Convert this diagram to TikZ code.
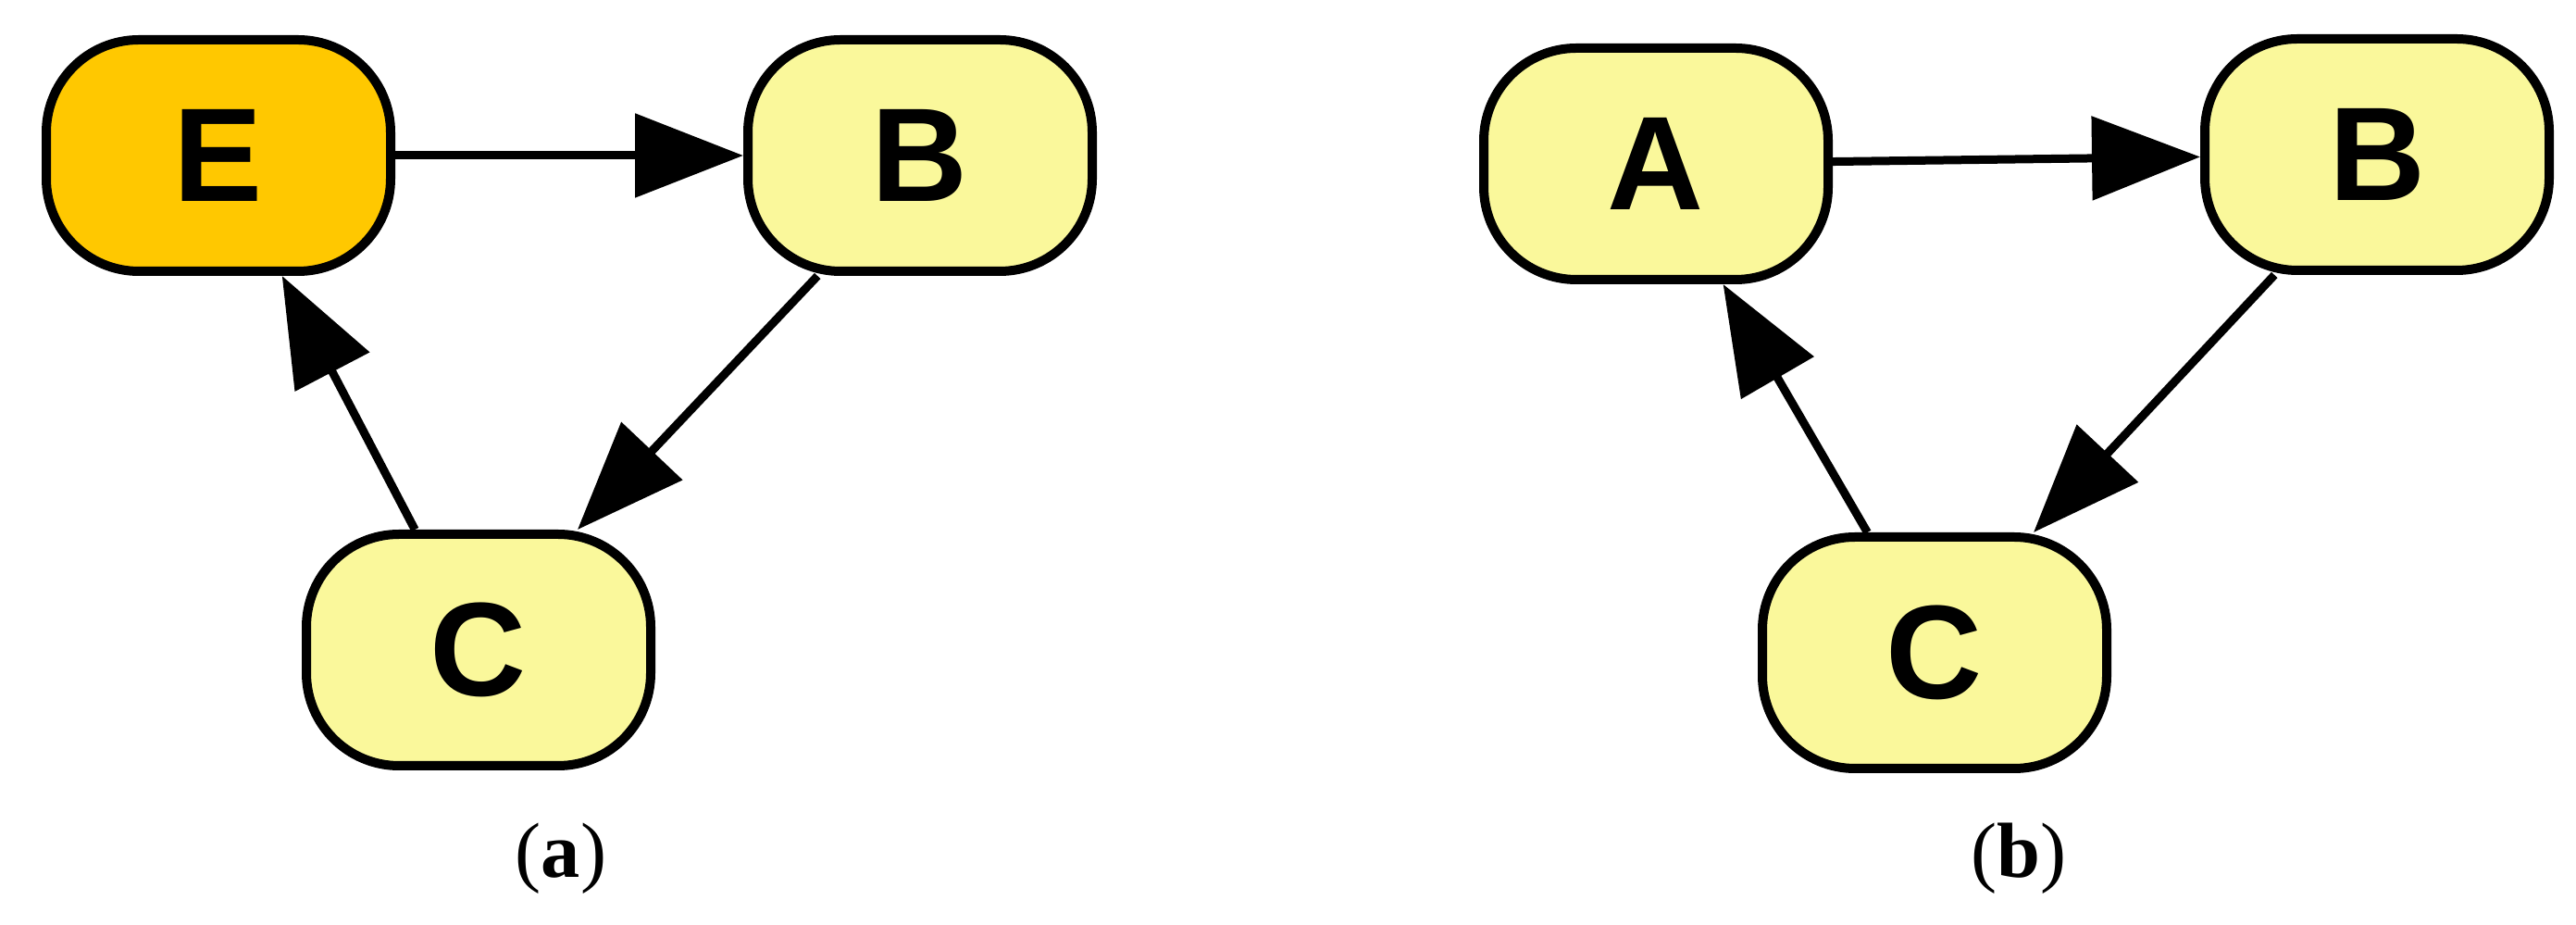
\documentclass[tikz,border=0pt]{standalone}
\usepackage{fontspec}
\setmainfont{Liberation Serif}
\newfontfamily\boxfont{Liberation Sans}
\usepackage{tikz}
\usetikzlibrary{calc,arrows.meta}

\definecolor{paleyellow}{RGB}{250,248,155}
\definecolor{amber}{RGB}{255,200,0}

\begin{document}
\begin{tikzpicture}[
	state/.style={draw,line width=0.1cm,rectangle,rounded corners=1.0cm,fill=paleyellow,minimum width=3.72cm,minimum height=2.50cm,font=\boxfont\bfseries\fontsize{41}{48}\selectfont},
	link/.style={line width=0.09cm,-{Triangle[length=1.17cm,width=0.89cm]}},
	caption/.style={anchor=base,font=\fontsize{24}{28}\selectfont}
	]
\useasboundingbox (0,0) rectangle (27.83,9.99);

\node[state,fill=amber] (E) at (2.36,8.31) {E};
\node[state] (Ba) at (9.94,8.31) {B};
\node[state] (Ca) at (5.17,2.97) {C};

\draw[link] (E) -- (Ba);
\draw[link] ($(Ba.south west)!0.21!(Ba.south east)$)
	-- ($(Ca.north west)!0.78!(Ca.north east)$);
\draw[link] ($(Ca.north west)!0.32!(Ca.north east)$)
	-- ($(E.south west)!0.68!(E.south east)$);

\node[caption] (capa) at (6.06,0.51) {(\textbf{a})};

\node[state] (A) at (17.89,8.22) {A};
\node[state] (Bb) at (25.68,8.32) {B};
\node[state] (Cb) at (20.90,2.94) {C};

\draw[link] (A) -- (Bb);
\draw[link] ($(Bb.south west)!0.21!(Bb.south east)$)
	-- ($(Cb.north west)!0.78!(Cb.north east)$);
\draw[link] ($(Cb.north west)!0.31!(Cb.north east)$)
	-- ($(A.south west)!0.69!(A.south east)$);

\node[caption] (capb) at (21.81,0.51) {(\textbf{b})};
\end{tikzpicture}
\end{document}
